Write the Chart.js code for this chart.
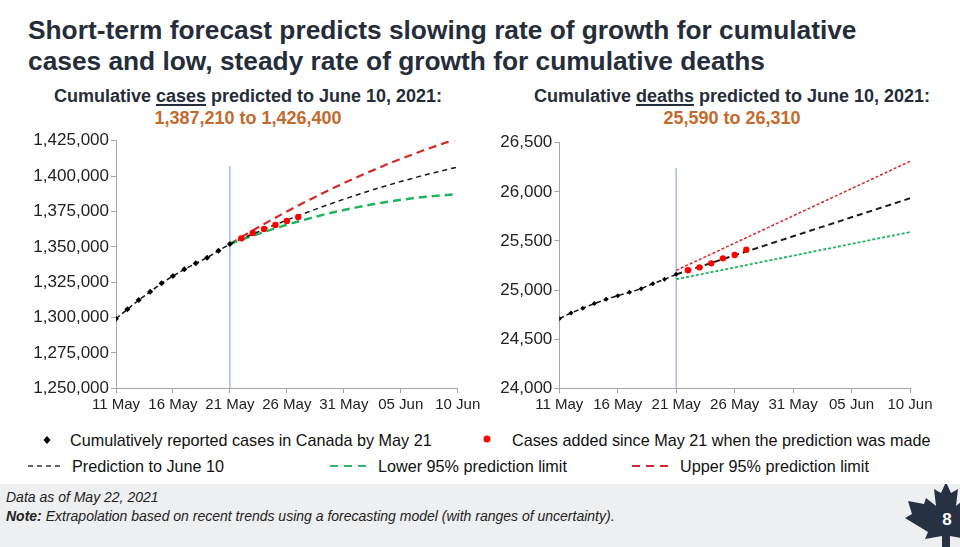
<!DOCTYPE html>
<html><head><meta charset="utf-8">
<script src="https://cdn.jsdelivr.net/npm/chart.js@4.4.1/dist/chart.umd.min.js"></script>
<style>
html,body{margin:0;padding:0;}
body{width:960px;height:547px;position:relative;background:#fff;font-family:"Liberation Sans",Arial,sans-serif;overflow:hidden;color:#1f2633;}
.abs{position:absolute;}
#title{left:28px;top:15px;font-weight:bold;font-size:26.3px;line-height:31px;color:#252d3a;white-space:nowrap;}
.sub{top:86px;width:440px;text-align:center;font-weight:bold;font-size:18px;line-height:21.5px;color:#252d3a;white-space:nowrap;}
.sub u{text-decoration-thickness:1.5px;text-underline-offset:2px;}
.sub .rng{color:#c46a2c;}
.leg{font-size:16.2px;line-height:19px;color:#111;white-space:nowrap;}
#footer{left:0;top:484px;width:960px;height:63px;background:#eeeff1;}
.ft{font-style:italic;font-size:14px;line-height:17px;color:#222;white-space:nowrap;}
canvas{position:absolute;}
</style></head><body>
<div id="title" class="abs">Short-term forecast predicts slowing rate of growth for cumulative<br>cases and low, steady rate of growth for cumulative deaths</div>
<div class="abs sub" style="left:28px;">Cumulative <u>cases</u> predicted to June 10, 2021:<br><span class="rng">1,387,210 to 1,426,400</span></div>
<div class="abs sub" style="left:512px;">Cumulative <u>deaths</u> predicted to June 10, 2021:<br><span class="rng">25,590 to 26,310</span></div>

<canvas id="cCases" width="484" height="300" style="left:0;top:120px;width:484px;height:300px;"></canvas>
<canvas id="cDeaths" width="456" height="300" style="left:484px;top:120px;width:456px;height:300px;"></canvas>

<svg class="abs" style="left:0;top:425px;" width="960" height="55">
  <polygon points="47,11 50.5,15 47,19 43.5,15" fill="#000"/>
  <circle cx="487" cy="14" r="3.5" fill="#ff0000"/>
  <line x1="28" y1="41" x2="64" y2="41" stroke="#333" stroke-width="1.3" stroke-dasharray="5,4"/>
  <line x1="330" y1="41" x2="370" y2="41" stroke="#33b56a" stroke-width="1.8" stroke-dasharray="8,6"/>
  <line x1="632" y1="41" x2="672" y2="41" stroke="#d02828" stroke-width="1.8" stroke-dasharray="8,6"/>
</svg>
<div class="abs leg" style="left:70px;top:431px;">Cumulatively reported cases in Canada by May 21</div>
<div class="abs leg" style="left:512px;top:431px;">Cases added since May 21 when the prediction was made</div>
<div class="abs leg" style="left:72px;top:457px;">Prediction to June 10</div>
<div class="abs leg" style="left:378px;top:457px;">Lower 95% prediction limit</div>
<div class="abs leg" style="left:680px;top:457px;">Upper 95% prediction limit</div>

<div id="footer" class="abs"></div>
<div class="abs ft" style="left:6px;top:489px;">Data as of May 22, 2021</div>
<div class="abs ft" style="left:6px;top:508px;"><b>Note:</b> Extrapolation based on recent trends using a forecasting model (with ranges of uncertainty).</div>
<svg class="abs" style="left:900px;top:484px;" width="60" height="63">
  <polygon points="46,-2 51,9 58,5 56,22 66,14 68,20 82,17 77,30 84,34 64,48 67,55 50,52 50,63 42,63 42,52 25,55 28,48 5,34 12,30 8,17 24,20 26,14 36,22 34,5 41,9" fill="#263142"/>
  <text x="47" y="41" fill="#fff" font-family="Liberation Sans, Arial, sans-serif" font-size="17" font-weight="bold" text-anchor="middle">8</text>
</svg>

<script>
// ---- Data ----
const tickLabels = ['11 May','16 May','21 May','26 May','31 May','05 Jun','10 Jun'];
const reportedDays = [0,1,2,3,4,5,6,7,8,9,10];
const addedDays = [11,12,13,14,15,16];
const forecastDays = [10,11,12,13,14,15,16,17,18,19,20,21,22,23,24,25,26,27,28,29,30];
const predictionStartDay = 10;

const casesReported = [1299200,1305800,1312400,1318300,1324200,1329400,1334100,1338300,1342300,1347300,1352000];
const casesAdded = [1356000,1359800,1362600,1365400,1368200,1371100];
const casesPrediction = [1352000,1355600,1359000,1362400,1365700,1368900,1372000,1375000,1378000,1380800,1383600,1386300,1388900,1391400,1393800,1396100,1398300,1400500,1402500,1404500,1406400];
const casesLower = [1352000,1355000,1357800,1360500,1363100,1365600,1367900,1370100,1372200,1374200,1376000,1377700,1379300,1380700,1382000,1383200,1384300,1385200,1386000,1386700,1387210];
const casesUpper = [1352000,1356800,1361500,1366100,1370600,1375000,1379200,1383300,1387300,1391200,1395000,1398700,1402200,1405600,1409000,1412200,1415200,1418200,1421000,1423800,1426400];
const casesMarkerTop = 1407000;

const deathsReported = [24709,24767,24814,24862,24906,24943,24977,25014,25065,25109,25160];
const deathsAdded = [25201,25231,25272,25323,25357,25411];
const deathsPrediction = [25160,25199,25237,25276,25315,25354,25392,25431,25470,25508,25547,25586,25625,25663,25702,25741,25779,25818,25857,25895,25934];
const deathsLower = [25110,25134,25158,25182,25206,25230,25254,25278,25302,25326,25350,25374,25398,25422,25446,25470,25494,25518,25542,25566,25590];
const deathsUpper = [25200,25256,25311,25367,25422,25478,25533,25589,25644,25700,25755,25811,25866,25922,25977,26033,26088,26144,26199,26255,26310];
const deathsMarkerTop = 26240;

// ---- Chart building ----
const FONT = '"Liberation Sans", Arial, sans-serif';
function pts(days, vals){ return vals.map((v,i)=>({x:days[i], y:v})); }

function buildChart(id, o){
  const axisColor = '#a6a6a6';
  return new Chart(document.getElementById(id), {
    type:'line',
    data:{datasets:[
      {data:pts(addedDays,o.added), showLine:false, pointStyle:'circle', pointRadius:o.redR, pointBackgroundColor:'#ff0000', pointBorderColor:'#ff0000', pointBorderWidth:0},
      {data:pts(reportedDays,o.reported), borderColor:'#111', borderWidth:1.5, borderDash:[5,3], pointStyle:'rectRot', pointRadius:o.diaR, pointBackgroundColor:'#000', pointBorderColor:'#000', pointBorderWidth:0},
      {data:pts(forecastDays,o.pred), borderColor:'#1a1a1a', borderWidth:o.predW, borderDash:o.predDash, pointRadius:0},
      {data:pts(forecastDays,o.lower), borderColor:'#1fb45e', borderWidth:o.limW, borderDash:o.limDash, pointRadius:0},
      {data:pts(forecastDays,o.upper), borderColor:'#d42a2a', borderWidth:o.upW, borderDash:o.limDash, pointRadius:0},
      {data:[{x:predictionStartDay,y:o.min},{x:predictionStartDay,y:o.vTop}], borderColor:'#8eaadb', borderWidth:1.2, pointRadius:0}
    ]},
    options:{
      responsive:false, animation:false, events:[],
      plugins:{legend:{display:false}, tooltip:{enabled:false}},
      layout:{padding:{top:o.padTop, right:o.padRight, left:0, bottom:0}},
      scales:{
        x:{type:'linear', min:0, max:30,
           ticks:{stepSize:5, autoSkip:false, maxRotation:0, color:'#222', padding:3, font:{size:15, family:FONT},
                  callback:v=>tickLabels[v/5]},
           grid:{drawOnChartArea:false, drawTicks:true, tickLength:5, color:axisColor},
           border:{color:axisColor, width:1},
           afterFit:s=>{s.height=31.7; s.paddingLeft=0; s.paddingRight=0;}},
        y:{min:o.min, max:o.max,
           ticks:{stepSize:o.step, color:'#222', padding:2, font:{size:17, family:FONT},
                  callback:v=>v.toLocaleString('en-US')},
           grid:{drawOnChartArea:false, drawTicks:true, tickLength:5, color:axisColor},
           border:{color:axisColor, width:1},
           afterFit:s=>{s.width=o.yWidth; s.paddingTop=0; s.paddingBottom=0;}}
      }
    }
  });
}

buildChart('cCases', {reported:casesReported, added:casesAdded, pred:casesPrediction, lower:casesLower, upper:casesUpper,
  min:1250000, max:1425000, step:25000, vTop:casesMarkerTop, yWidth:116, padTop:20.7, padRight:26.3,
  predW:1.5, predDash:[5,4], limW:2.5, upW:2.2, limDash:[8,5], redR:3.2, diaR:3});

buildChart('cDeaths', {reported:deathsReported, added:deathsAdded, pred:deathsPrediction, lower:deathsLower, upper:deathsUpper,
  min:24000, max:26500, step:500, vTop:deathsMarkerTop, yWidth:75.3, padTop:22.7, padRight:30,
  predW:2, predDash:[6,4], limW:1.8, upW:1.5, limDash:[3,2], redR:3.2, diaR:2.5});
</script>
</body></html>
